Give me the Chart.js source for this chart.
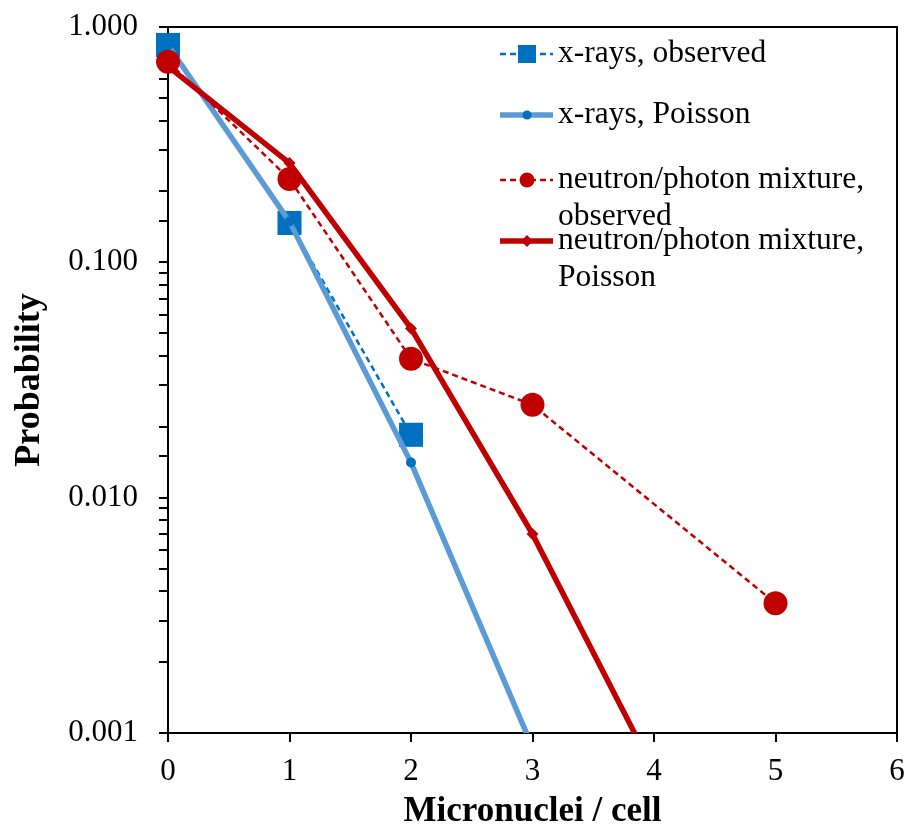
<!DOCTYPE html>
<html>
<head>
<meta charset="utf-8">
<script src="https://cdn.jsdelivr.net/npm/chart.js@4/dist/chart.umd.min.js"></script>
<style>
  body { margin: 0; background: #fff; }
  #wrap { width: 907px; height: 830px; }
</style>
</head>
<body>
<div id="wrap"><canvas id="chart" width="907" height="830"></canvas></div>
<script>
let xrayObsX = [0, 1, 2];
let xrayObserved = [0.839, 0.147, 0.0185];
let xrayPoissonX = [0, 1, 2, 3];
let xrayPoisson = [0.836, 0.149, 0.0141, 0.00087];
let neutronObsX = [0, 1, 2, 3, 5];
let neutronObserved = [0.712, 0.226, 0.0389, 0.0248, 0.00356];
let neutronPoissonX = [0, 1, 2, 3, 4];
let neutronPoisson = [0.68, 0.264, 0.0524, 0.0070, 0.00069];
let yTickValues = [1, 0.1, 0.01, 0.001];

let serif = "'Liberation Serif', 'Times New Roman', serif";
let blue = "#0070C0";
let lightBlue = "#5B9BD5";
let red = "#C00000";
// let markers hang over the left/top edges, but cut the lines at 0.001
let markerClip = { left: 20, top: 20, right: 20, bottom: 0 };

function points(xs, ys) {
  let out = [];
  for (let i = 0; i < xs.length; i++) {
    out.push({ x: xs[i], y: ys[i] });
  }
  return out;
}

// top and right edges of the plot box
let frame = {
  id: "frame",
  beforeDatasetsDraw(chart) {
    let a = chart.chartArea;
    let ctx = chart.ctx;
    ctx.save();
    ctx.strokeStyle = "#000";
    ctx.lineWidth = 2;
    ctx.beginPath();
    ctx.moveTo(a.left, a.top);
    ctx.lineTo(a.right, a.top);
    ctx.lineTo(a.right, a.bottom);
    ctx.stroke();
    ctx.restore();
  },
};

let legendItems = [
  { lines: ["x-rays, observed"], color: blue, lineColor: blue, width: 2.5, dash: [6, 4], marker: "square", size: 9, y: 54 },
  { lines: ["x-rays, Poisson"], color: blue, lineColor: lightBlue, width: 5.5, dash: [], marker: "circle", size: 4.5, y: 115 },
  { lines: ["neutron/photon mixture,", "observed"], color: red, lineColor: red, width: 2.5, dash: [6, 4], marker: "circle", size: 7.5, y: 180 },
  { lines: ["neutron/photon mixture,", "Poisson"], color: red, lineColor: red, width: 5.5, dash: [], marker: "diamond", size: 6, y: 241 },
];

let legend = {
  id: "customLegend",
  afterDraw(chart) {
    let ctx = chart.ctx;
    ctx.save();
    legendItems.forEach((item) => {
      ctx.strokeStyle = item.lineColor;
      ctx.lineWidth = item.width;
      ctx.setLineDash(item.dash);
      ctx.beginPath();
      ctx.moveTo(500, item.y);
      ctx.lineTo(553, item.y);
      ctx.stroke();
      ctx.setLineDash([]);
      ctx.fillStyle = item.color;
      let cx = 527, s = item.size;
      ctx.beginPath();
      if (item.marker === "square") {
        ctx.rect(cx - s, item.y - s, 2 * s, 2 * s);
      } else if (item.marker === "circle") {
        ctx.arc(cx, item.y, s, 0, Math.PI * 2);
      } else {
        ctx.moveTo(cx, item.y - s);
        ctx.lineTo(cx + s, item.y);
        ctx.lineTo(cx, item.y + s);
        ctx.lineTo(cx - s, item.y);
        ctx.closePath();
      }
      ctx.fill();
      ctx.fillStyle = "#000";
      ctx.font = "31.5px " + serif;
      ctx.textBaseline = "middle";
      ctx.textAlign = "left";
      item.lines.forEach((line, i) => {
        ctx.fillText(line, 558, item.y + i * 37);
      });
    });
    ctx.restore();
  },
};

let config = {
  type: "line",
  data: {
    datasets: [
      {
        label: "x-rays, observed",
        data: points(xrayObsX, xrayObserved),
        borderColor: blue,
        backgroundColor: blue,
        borderWidth: 2.5,
        borderDash: [6, 4],
        pointStyle: "rect",
        pointRadius: 17,
        pointBorderWidth: 0,
        clip: markerClip,
        order: 4,
      },
      {
        label: "x-rays, Poisson",
        data: points(xrayPoissonX, xrayPoisson),
        borderColor: lightBlue,
        backgroundColor: blue,
        borderWidth: 5.5,
        pointStyle: "circle",
        pointRadius: 5,
        pointBorderWidth: 0,
        clip: markerClip,
        order: 3,
      },
      {
        label: "neutron/photon mixture, observed",
        data: points(neutronObsX, neutronObserved),
        borderColor: red,
        backgroundColor: red,
        borderWidth: 2.5,
        borderDash: [6, 4],
        pointStyle: "circle",
        pointRadius: 12,
        pointBorderWidth: 0,
        clip: markerClip,
        order: 2,
      },
      {
        label: "neutron/photon mixture, Poisson",
        data: points(neutronPoissonX, neutronPoisson),
        borderColor: red,
        backgroundColor: red,
        borderWidth: 5.5,
        pointStyle: "rectRot",
        pointRadius: 6,
        pointBorderWidth: 0,
        clip: markerClip,
        order: 1,
      },
    ],
  },
  options: {
    responsive: false,
    animation: false,
    events: [],
    layout: { autoPadding: false, padding: { top: 27, right: 10, left: 0, bottom: 0 } },
    plugins: {
      legend: { display: false },
      tooltip: { enabled: false },
    },
    scales: {
      x: {
        type: "linear",
        min: 0,
        max: 6,
        ticks: {
          stepSize: 1,
          color: "#000",
          padding: 11,
          font: { family: serif, size: 31 },
        },
        grid: {
          drawOnChartArea: false,
          drawTicks: true,
          tickLength: 9,
          color: "#000",
          lineWidth: 2,
        },
        border: { display: true, color: "#000", width: 2 },
        title: {
          display: true,
          text: "Micronuclei / cell",
          color: "#000",
          font: { family: serif, size: 35, weight: "bold", lineHeight: 1 },
          padding: { top: 1, bottom: 1 },
        },
        afterFit(scale) {
          scale.height = 97;
          scale.paddingLeft = 0;
          scale.paddingRight = 0;
        },
      },
      y: {
        type: "logarithmic",
        min: 0.001,
        max: 1,
        ticks: {
          autoSkip: false,
          color: "#000",
          padding: 21,
          font: { family: serif, size: 31 },
          callback: (v) => {
            let hit = yTickValues.find((t) => Math.abs(t - v) < t * 1e-6);
            return hit === undefined ? "" : hit.toFixed(3);
          },
        },
        grid: {
          drawOnChartArea: false,
          drawTicks: true,
          tickLength: 9,
          color: "#000",
          lineWidth: 2,
        },
        border: { display: true, color: "#000", width: 2 },
        title: {
          display: true,
          text: "Probability",
          color: "#000",
          font: { family: serif, size: 36, weight: "bold", lineHeight: 1 },
          padding: { top: 12, bottom: 12 },
        },
        afterFit(scale) {
          scale.width = 168;
          scale.paddingTop = 0;
          scale.paddingBottom = 0;
        },
      },
    },
  },
  plugins: [frame, legend],
};

let chart = new Chart(document.getElementById("chart"), config);
</script>
</body>
</html>
